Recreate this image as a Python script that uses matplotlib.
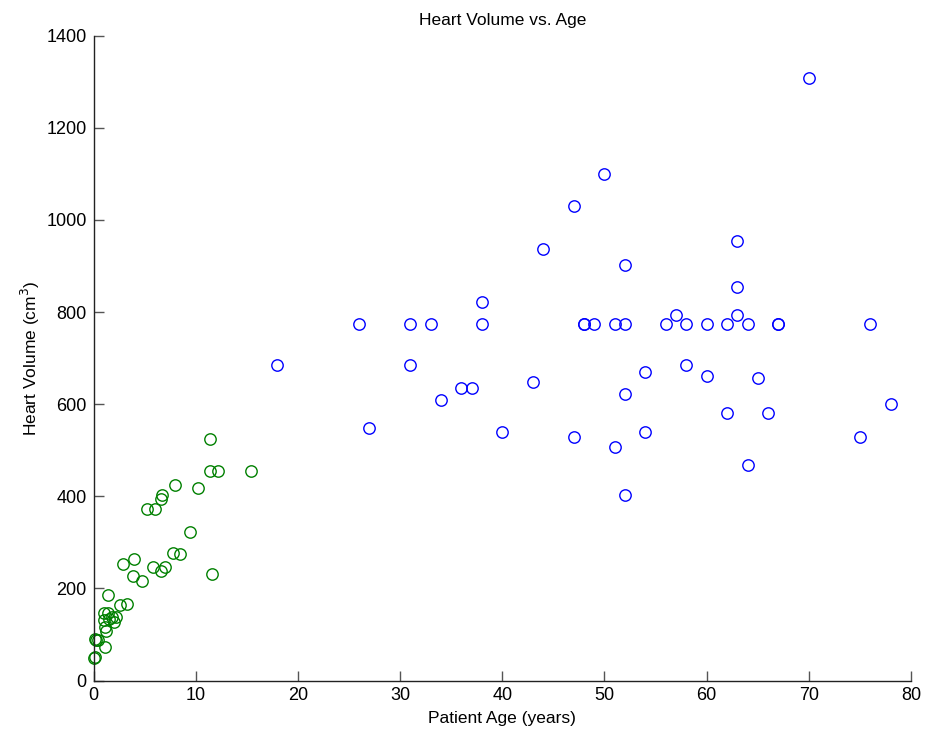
import matplotlib
matplotlib.use("Agg")
import matplotlib.pyplot as plt

plt.rcParams['font.family'] = ['Liberation Sans', 'DejaVu Sans']

# Adult patients (age in years, heart volume in cm^3)
adult_age = [18, 26, 27, 31, 31, 33, 34, 36, 37, 38, 38, 40, 43, 44, 47, 47,
             48, 48, 49, 50, 51, 51, 52, 52, 52, 52, 54, 54, 56, 57, 58, 58,
             60, 60, 62, 62, 63, 63, 63, 64, 64, 65, 66, 67, 67, 70, 75, 76, 78]
adult_vol = [685, 774, 548, 774, 685, 774, 609, 636, 636, 822, 774, 540, 649, 936, 1031, 528,
             774, 774, 774, 1100, 774, 508, 903, 774, 621, 403, 669, 540, 774, 794, 774, 685,
             774, 661, 774, 581, 955, 855, 794, 774, 468, 657, 581, 774, 774, 1309, 528, 774, 601]

# Pediatric patients
child_age = [11.4, 11.4, 12.2, 15.4, 8.0, 10.2, 6.7, 6.6, 5.2, 6.0, 9.4, 7.8, 8.5,
             2.9, 4.0, 5.8, 7.0, 6.6, 3.9, 4.7, 11.6, 1.4, 2.6, 3.3, 1.0, 1.45,
             1.25, 1.1, 1.0, 2.0, 2.2, 1.8, 1.5, 0.25, 0.45, 0.1, 1.1, 0.0, 0.1]
child_vol = [524, 455, 455, 455, 424, 419, 403, 395, 372, 372, 322, 277, 275,
             254, 263, 247, 247, 238, 227, 215, 231, 186, 163, 166, 147, 147,
             108, 117, 131, 126, 137, 138, 133, 89, 88, 90, 73, 48, 52]

fig = plt.figure(figsize=(9.25, 7.32), dpi=100)
ax = fig.add_axes([93.5 / 925, 51.5 / 732, 817.5 / 925, 644.8 / 732])

ax.plot(adult_age, adult_vol, linestyle='none', marker='o', markersize=8.2,
        markerfacecolor='none', markeredgecolor=(0, 0, 1), markeredgewidth=1.0,
        clip_on=False)
ax.plot(child_age, child_vol, linestyle='none', marker='o', markersize=8.2,
        markerfacecolor='none', markeredgecolor=(0, 0.5, 0), markeredgewidth=1.0,
        clip_on=False)

ax.set_xlim(0, 80)
ax.set_ylim(0, 1400)
ax.set_xticks(range(0, 81, 10))
ax.set_yticks(range(0, 1401, 200))

for side in ('top', 'right'):
    ax.spines[side].set_visible(False)
for side in ('left', 'bottom'):
    ax.spines[side].set_color('#222222')
    ax.spines[side].set_linewidth(1.0)

ax.tick_params(direction='in', length=7, width=1, color='#555555',
               labelsize=13, labelcolor='black', pad=5)

ax.set_title('Heart Volume vs. Age', fontsize=12.5, pad=8)
ax.set_xlabel('Patient Age (years)', fontsize=12.5, labelpad=5)
ax.set_ylabel('Heart Volume (cm$^3$)', fontsize=12.5, labelpad=3)

fig.savefig('out.png', dpi=100)
